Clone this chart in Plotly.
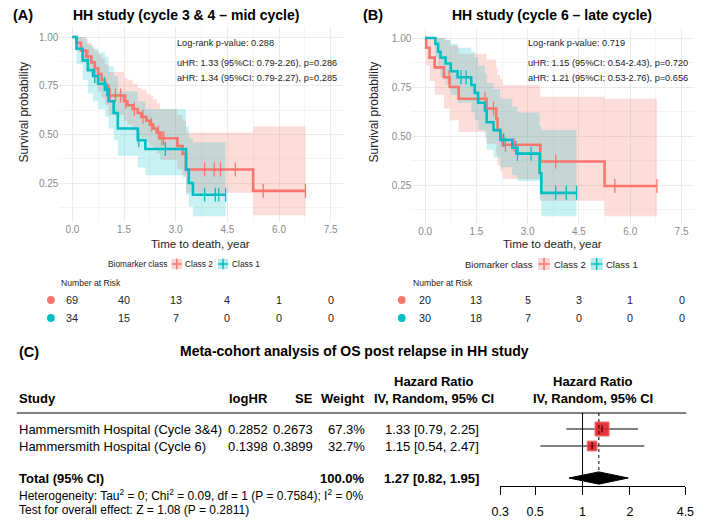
import numpy as np
import plotly.graph_objects as go

W, H = 709, 524
FONT = "Liberation Sans"
RED, TEAL = "#F8766D", "#00BFC4"
RED_FILL, TEAL_FILL = "rgba(248,118,109,0.25)", "rgba(0,191,196,0.22)"

# ---------------- data ----------------
time_ticks = [0, 1.5, 3.0, 4.5, 6.0, 7.5]
time_labels = ["0.0", "1.5", "3.0", "4.5", "6.0", "7.5"]
surv_ticks = [0.25, 0.5, 0.75, 1.0]
surv_labels = ["0.25", "0.50", "0.75", "1.00"]

# Panel A - Class 2
A2_t = [0, 0.12, 0.25, 0.4, 0.55, 0.65, 0.75, 0.85, 0.95, 1.05, 1.5, 1.6, 1.75, 1.9, 2.0,
        2.15, 2.25, 2.35, 2.45, 2.55, 3.05, 3.2, 3.3, 5.25]
A2_s = [1.0, 0.97, 0.93, 0.90, 0.87, 0.84, 0.81, 0.78, 0.75, 0.70, 0.67, 0.65, 0.63, 0.61, 0.59,
        0.57, 0.55, 0.53, 0.51, 0.48, 0.44, 0.40, 0.32, 0.21]
A2_lo = [1.0, 0.93, 0.87, 0.83, 0.80, 0.76, 0.72, 0.69, 0.65, 0.60, 0.57, 0.55, 0.52, 0.50, 0.48,
         0.46, 0.44, 0.42, 0.40, 0.37, 0.32, 0.28, 0.20, 0.085]
A2_hi = [1.0, 1.0, 1.0, 0.97, 0.95, 0.93, 0.91, 0.89, 0.86, 0.82, 0.79, 0.78, 0.76, 0.74, 0.73,
         0.71, 0.70, 0.68, 0.66, 0.63, 0.60, 0.57, 0.51, 0.54]
A2_end = 6.77
A2_cens = [0.45, 0.75, 1.1, 1.25, 1.4, 1.55, 1.8, 2.05, 2.3, 2.5, 2.6, 2.65, 3.84, 4.12, 4.3, 4.73, 5.54, 6.77]

# Panel A - Class 1
A1_t = [0, 0.12, 0.3, 0.45, 0.6, 0.75, 0.95, 1.05, 1.2, 1.32, 1.9, 2.12, 3.3, 3.38, 3.5]
A1_s = [1.0, 0.94, 0.88, 0.83, 0.80, 0.76, 0.73, 0.67, 0.61, 0.53, 0.47, 0.425, 0.32, 0.25, 0.19]
A1_lo = [1.0, 0.86, 0.78, 0.71, 0.67, 0.63, 0.59, 0.53, 0.47, 0.39, 0.33, 0.29, 0.19, 0.13, 0.08]
A1_hi = [1.0, 1.0, 0.99, 0.96, 0.94, 0.92, 0.90, 0.85, 0.80, 0.72, 0.67, 0.63, 0.54, 0.48, 0.46]
A1_end = 4.45
A1_cens = [0.65, 0.93, 1.0, 1.93, 2.7, 3.84, 4.15, 4.25, 4.45]

# Panel B - Class 2
B2_t = [0, 0.03, 0.13, 0.28, 0.55, 0.72, 0.98, 1.8, 2.08, 2.12, 2.2, 2.27, 3.37, 5.25]
B2_s = [1.0, 0.95, 0.90, 0.85, 0.80, 0.75, 0.69, 0.64, 0.59, 0.53, 0.50, 0.455, 0.37, 0.245]
B2_lo = [1.0, 0.86, 0.78, 0.71, 0.64, 0.58, 0.52, 0.46, 0.41, 0.35, 0.32, 0.28, 0.17, 0.09]
B2_hi = [1.0, 1.0, 1.0, 1.0, 0.99, 0.96, 0.92, 0.89, 0.85, 0.81, 0.79, 0.76, 0.70, 0.69]
B2_end = 6.78
B2_cens = [0.7, 1.75, 2.0, 2.35, 2.6, 3.82, 5.55, 6.78]

# Panel B - Class 1
B1_t = [0, 0.3, 0.38, 0.45, 0.6, 0.75, 0.95, 1.35, 1.45, 1.55, 1.75, 1.8, 2.0, 2.2, 2.55,
        2.7, 3.35, 3.4]
B1_s = [1.0, 0.97, 0.93, 0.90, 0.87, 0.83, 0.80, 0.76, 0.72, 0.67, 0.63, 0.57, 0.53, 0.48,
        0.44, 0.41, 0.31, 0.21]
B1_lo = [1.0, 0.90, 0.85, 0.80, 0.76, 0.71, 0.67, 0.62, 0.58, 0.53, 0.49, 0.43, 0.39, 0.34,
         0.30, 0.27, 0.17, 0.09]
B1_hi = [1.0, 1.0, 1.0, 1.0, 0.99, 0.97, 0.95, 0.93, 0.90, 0.86, 0.82, 0.77, 0.74, 0.69,
         0.65, 0.62, 0.55, 0.53]
B1_end = 4.43
B1_cens = [1.05, 1.2, 2.3, 2.65, 2.7, 3.1, 3.82, 4.13, 4.43]

A_risk_c2 = [69, 40, 13, 4, 1, 0]
A_risk_c1 = [34, 15, 7, 0, 0, 0]
B_risk_c2 = [20, 13, 5, 3, 1, 0]
B_risk_c1 = [30, 18, 7, 0, 0, 0]

A_stats = ["Log-rank p-value: 0.288",
           "uHR: 1.33 (95%CI: 0.79-2.26), p=0.286",
           "aHR: 1.34 (95%CI: 0.79-2.27), p=0.285"]
B_stats = ["Log-rank p-value: 0.719",
           "uHR: 1.15 (95%CI: 0.54-2.43), p=0.720",
           "aHR: 1.21 (95%CI: 0.53-2.76), p=0.656"]

# Forest data
studies = ["Hammersmith Hospital (Cycle 3&4)", "Hammersmith Hospital (Cycle 6)"]
logHR = [0.2852, 0.1398]
SE = [0.2673, 0.3899]
weight = [67.3, 32.7]
HR = [1.33, 1.15]
HR_lo = [0.79, 0.54]
HR_hi = [2.25, 2.47]
total_HR, total_lo, total_hi = 1.27, 0.82, 1.95
forest_ticks = [0.3, 0.5, 1, 2, 4.5]
forest_labels = ["0.3", "0.5", "1", "2", "4.5"]


# ---------------- helpers ----------------
def X(p):
    return p / W


def Y(p):
    return 1 - p / H


fig = go.Figure()
annotations = []
shapes = []


def ann(text, x, y, size, color="#000000", xanchor="left", bold=False, xref="paper",
        yref="paper", angle=0, yanchor="middle"):
    if bold:
        text = "<b>" + text + "</b>"
    annotations.append(dict(text=text, x=x, y=y, xref=xref, yref=yref, showarrow=False,
                            xanchor=xanchor, yanchor=yanchor, textangle=angle, borderpad=0,
                            font=dict(family=FONT, size=size, color=color)))


def add_km(t, lo, hi, end, fill, xa, ya):
    x = list(t) + [end]
    fig.add_trace(go.Scatter(x=x, y=list(lo) + [lo[-1]], mode="lines",
                             line=dict(width=0, shape="hv"), xaxis=xa, yaxis=ya,
                             showlegend=False, hoverinfo="skip"))
    fig.add_trace(go.Scatter(x=x, y=list(hi) + [hi[-1]], mode="lines",
                             line=dict(width=0, shape="hv"), fill="tonexty", fillcolor=fill,
                             xaxis=xa, yaxis=ya, showlegend=False, hoverinfo="skip"))


def add_line(t, s, end, cens, color, xa, ya):
    x = list(t) + [end]
    fig.add_trace(go.Scatter(x=x, y=list(s) + [s[-1]], mode="lines",
                             line=dict(width=2.6, color=color, shape="hv"),
                             xaxis=xa, yaxis=ya, showlegend=False))
    idx = np.searchsorted(np.array(t), np.array(cens), side="right") - 1
    cy = [s[i] for i in idx]
    fig.add_trace(go.Scatter(x=cens, y=cy, mode="markers",
                             marker=dict(symbol="line-ns-open", size=10, color=color,
                                         line=dict(width=1.3, color=color)),
                             xaxis=xa, yaxis=ya, showlegend=False))


# Panel A
add_km(A2_t, A2_lo, A2_hi, A2_end, RED_FILL, "x", "y")
add_km(A1_t, A1_lo, A1_hi, A1_end, TEAL_FILL, "x", "y")
add_line(A2_t, A2_s, A2_end, A2_cens, RED, "x", "y")
add_line(A1_t, A1_s, A1_end, A1_cens, TEAL, "x", "y")
# Panel B
add_km(B2_t, B2_lo, B2_hi, B2_end, RED_FILL, "x2", "y2")
add_km(B1_t, B1_lo, B1_hi, B1_end, TEAL_FILL, "x2", "y2")
add_line(B2_t, B2_s, B2_end, B2_cens, RED, "x2", "y2")
add_line(B1_t, B1_s, B1_end, B1_cens, TEAL, "x2", "y2")

# ---------------- forest plot ----------------
rows = [1, 2]
total_row = 3.88
for i, r in enumerate(rows):
    fig.add_trace(go.Scatter(x=[HR_lo[i], HR_hi[i]], y=[r, r], mode="lines",
                             line=dict(color="#000000", width=1), xaxis="x3", yaxis="y3",
                             showlegend=False))
    fig.add_trace(go.Scatter(x=[HR[i]], y=[r], mode="markers",
                             marker=dict(symbol="square", size=14 * np.sqrt(weight[i] / max(weight)),
                                         color="rgba(228,30,38,0.9)",
                                         line=dict(color="rgba(240,110,110,1)", width=1)),
                             xaxis="x3", yaxis="y3", showlegend=False))
    fig.add_trace(go.Scatter(x=[HR[i]], y=[r], mode="markers",
                             marker=dict(symbol="line-ns-open", size=5, color="#000000",
                                         line=dict(color="#000000", width=1)),
                             xaxis="x3", yaxis="y3", showlegend=False))
# reference line at 1 and dotted line at pooled
fig.add_trace(go.Scatter(x=[1, 1], y=[0.06, 4.35], mode="lines",
                         line=dict(color="#000000", width=1), xaxis="x3", yaxis="y3",
                         showlegend=False))
fig.add_trace(go.Scatter(x=[total_HR, total_HR], y=[0.06, total_row], mode="lines",
                         line=dict(color="#000000", width=1, dash="dot"), xaxis="x3", yaxis="y3",
                         showlegend=False))
# diamond
dh = 0.36
fig.add_trace(go.Scatter(x=[total_lo, total_HR, total_hi, total_HR, total_lo],
                         y=[total_row, total_row - dh, total_row, total_row + dh, total_row],
                         mode="lines", fill="toself", fillcolor="#000000",
                         line=dict(color="#000000", width=1), xaxis="x3", yaxis="y3",
                         showlegend=False))

# ---------------- KM text ----------------
ann("(A)", X(3), Y(15), 14.5, "#000000", bold=True)
ann("HH study (cycle 3 &amp; 4 – mid cycle)", X(182), Y(15), 14, "#000000", "center", bold=True)
ann("(B)", X(362), Y(15), 14.5, "#000000", bold=True)
ann("HH study (cycle 6 – late cycle)", X(557), Y(15), 14, "#000000", "center", bold=True)

for stats, x0 in ((A_stats, 171), (B_stats, 531)):
    ann(stats[0], X(x0), Y(43), 9.2, "#222222")
    ann(stats[1], X(x0), Y(63), 9.2, "#222222")
    ann(stats[2], X(x0), Y(77.5), 9.2, "#222222")

ann("Survival probability", X(15), Y(112), 12, "#222222", "center", angle=-90)
ann("Survival probability", X(375), Y(112), 12, "#222222", "center", angle=-90)
ann("Time to death, year", X(197), Y(244), 11.5, "#222222", "center")
ann("Time to death, year", X(558), Y(244), 11.5, "#222222", "center")


def legend(cx, k):
    # k: scale of the legend (font / key sizes)
    fs = 9.5 * k
    ann("Biomarker class", X(cx - 19 * k), Y(264), fs, "#222222", "right")
    for kx, col, fl, lab in ((cx - 9 * k, RED, "rgba(248,118,109,0.3)", "Class 2"),
                             (cx + 45 * k, TEAL, "rgba(0,191,196,0.3)", "Class 1")):
        hw = 6 * k
        shapes.append(dict(type="rect", xref="paper", yref="paper", x0=X(kx - hw), x1=X(kx + hw),
                           y0=Y(264 + hw), y1=Y(264 - hw), fillcolor=fl, line=dict(width=0)))
        shapes.append(dict(type="line", xref="paper", yref="paper", x0=X(kx - hw), x1=X(kx + hw),
                           y0=Y(264), y1=Y(264), line=dict(color=col, width=1.5)))
        shapes.append(dict(type="line", xref="paper", yref="paper", x0=X(kx), x1=X(kx),
                           y0=Y(264 - hw), y1=Y(264 + hw), line=dict(color=col, width=1.5)))
        ann(lab, X(kx + 9 * k), Y(264), fs, "#222222")


legend(180, 0.88)
legend(558, 1.0)

for xa, dotx, r2, r1, lx in (("x", 43, A_risk_c2, A_risk_c1, 52), ("x2", 403, B_risk_c2, B_risk_c1, 413)):
    ann("Number at Risk", X(lx), Y(283), 8.6, "#222222")
    for yy, col, vals in ((300, RED, r2), (318, TEAL, r1)):
        shapes.append(dict(type="circle", xref="paper", yref="paper", x0=X(dotx - 4), x1=X(dotx + 4),
                           y0=Y(yy + 4), y1=Y(yy - 4), fillcolor=col, line=dict(width=0)))
        for tv, v in zip(time_ticks, vals):
            ann(str(v), tv, Y(yy), 10.8, "#222222", "center", xref=xa)

# ---------------- forest text ----------------
FS_ROW = 13
ann("(C)", X(9), Y(352), 14.5, "#000000", bold=True)
ann("Meta-cohort analysis of OS post relapse in HH study", X(354), Y(351), 14, "#000000",
    "center", bold=True)
ann("Study", X(9), Y(398), FS_ROW, bold=True)
ann("logHR", X(267), Y(398), FS_ROW, xanchor="right", bold=True)
ann("SE", X(313), Y(398), FS_ROW, xanchor="right", bold=True)
ann("Weight", X(366), Y(398), FS_ROW, xanchor="right", bold=True)
ann("Hazard Ratio", X(436), Y(381), FS_ROW, xanchor="center", bold=True)
ann("IV, Random, 95% CI", X(436), Y(398), FS_ROW, xanchor="center", bold=True)
ann("Hazard Ratio", X(599), Y(381), FS_ROW, xanchor="center", bold=True)
ann("IV, Random, 95% CI", X(599), Y(398), FS_ROW, xanchor="center", bold=True)
shapes.append(dict(type="line", xref="paper", yref="paper", x0=X(8), x1=X(695), y0=Y(413), y1=Y(413),
                   line=dict(color="#000000", width=1)))
for i, r in enumerate(rows):
    ann(studies[i], X(9), r, FS_ROW, yref="y3")
    ann(f"{logHR[i]:.4f}", X(267), r, FS_ROW, xanchor="right", yref="y3")
    ann(f"{SE[i]:.4f}", X(313), r, FS_ROW, xanchor="right", yref="y3")
    ann(f"{weight[i]:.1f}%", X(366), r, FS_ROW, xanchor="right", yref="y3")
    ann(f"{HR[i]:.2f} [{HR_lo[i]:.2f}, {HR_hi[i]:.2f}]", X(483), r, FS_ROW, xanchor="right", yref="y3")
ann("Total (95% CI)", X(9), total_row, FS_ROW, bold=True, yref="y3")
ann(f"{sum(weight):.1f}%", X(366), total_row, FS_ROW, xanchor="right", bold=True, yref="y3")
ann(f"{total_HR:.2f} [{total_lo:.2f}, {total_hi:.2f}]", X(483), total_row, FS_ROW, xanchor="right",
    bold=True, yref="y3")
ann("Heterogeneity: Tau<sup>2</sup> = 0; Chi<sup>2</sup> = 0.09, df = 1 (P = 0.7584); I<sup>2</sup> = 0%",
    X(9), Y(495), 12)
ann("Test for overall effect: Z = 1.08 (P = 0.2811)", X(9), Y(510), 12)

# ---------------- axes ----------------
grid_major = "#EBEBEB"
grid_minor = "#F4F4F4"


def km_x(dom, anchor):
    return dict(domain=dom, range=[-0.375, 7.875], tickvals=time_ticks, ticktext=time_labels,
                showgrid=True, gridcolor=grid_major, gridwidth=1, zeroline=False, showline=False,
                ticks="", anchor=anchor,
                tickfont=dict(family=FONT, size=10, color="#8A8A8A"),
                minor=dict(tickvals=[0.75, 2.25, 3.75, 5.25, 6.75], showgrid=True,
                           gridcolor=grid_minor, gridwidth=1))


def km_y(dom, anchor):
    return dict(domain=dom, range=[0.05, 1.05], tickvals=surv_ticks, ticktext=surv_labels,
                showgrid=True, gridcolor=grid_major, gridwidth=1, zeroline=False, showline=False,
                ticks="", anchor=anchor,
                tickfont=dict(family=FONT, size=10, color="#8A8A8A"),
                minor=dict(tickvals=[0.125, 0.375, 0.625, 0.875], showgrid=True,
                           gridcolor=grid_minor, gridwidth=1))


fig.update_layout(
    width=W, height=H, margin=dict(l=0, r=0, t=0, b=0),
    paper_bgcolor="white", plot_bgcolor="white", showlegend=False,
    font=dict(family=FONT),
    xaxis=km_x([X(51.75), X(343.3)], "y"),
    yaxis=km_y([Y(222), Y(27.3)], "x"),
    xaxis2=km_x([X(413.8), X(703.2)], "y2"),
    yaxis2=km_y([Y(224.2), Y(28.2)], "x2"),
    xaxis3=dict(type="log", domain=[X(504), X(694)],
                range=[np.log10(0.3), np.log10(4.5)], tickvals=forest_ticks, ticktext=forest_labels,
                anchor="y3", showgrid=False, zeroline=False, showline=True, linecolor="#000000",
                linewidth=1, ticks="outside", ticklen=8, tickcolor="#000000", tickwidth=1,
                ticklabelstandoff=6,
                tickfont=dict(family=FONT, size=12.5, color="#000000")),
    yaxis3=dict(domain=[Y(486), Y(413)], range=[4.35, 0.06], visible=False, anchor="x3"),
    annotations=annotations, shapes=shapes,
)

fig.write_html("out.html")
